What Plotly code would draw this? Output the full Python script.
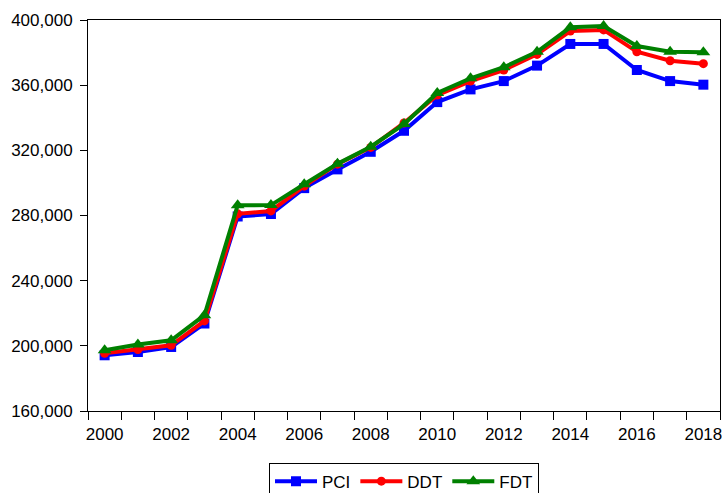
import plotly.graph_objects as go

years = list(range(2000, 2019))
pci = [194200, 196200, 199300, 213700, 279400, 280900, 296800, 308300, 319100, 332000,
       349600, 357400, 362500, 372000, 385300, 385300, 369300, 362500, 360300]
ddt = [195400, 197700, 200300, 215300, 281000, 282800, 298000, 311500, 321800, 336800,
       353900, 362500, 369300, 378900, 393200, 393900, 380500, 375000, 373200]
fdt = [197300, 200800, 203400, 218800, 286300, 286400, 299200, 311700, 322200, 336100,
       355200, 364200, 371000, 380500, 395500, 396300, 384000, 380500, 380200]

xtick_vals = list(range(2000, 2019, 2))
xtick_text = [str(y) for y in xtick_vals]
ytick_vals = [160000, 200000, 240000, 280000, 320000, 360000, 400000]

fig = go.Figure()
fig.add_trace(go.Scatter(x=years, y=pci, name="PCI", mode="lines+markers",
                         line=dict(color="#0000FF", width=4),
                         marker=dict(symbol="square", size=10, color="#0000FF")))
fig.add_trace(go.Scatter(x=years, y=ddt, name="DDT", mode="lines+markers",
                         line=dict(color="#FF0000", width=4),
                         marker=dict(symbol="circle", size=9, color="#FF0000")))
fig.add_trace(go.Scatter(x=years, y=fdt, name="FDT", mode="lines+markers",
                         line=dict(color="#008000", width=4),
                         marker=dict(symbol="triangle-up", size=12, color="#008000")))

font = dict(family="Liberation Sans, Arial, sans-serif", size=17, color="black")

fig.update_layout(
    width=722, height=493,
    margin=dict(l=88, r=2, t=20, b=82, autoexpand=False),
    paper_bgcolor="white", plot_bgcolor="white",
    font=font,
    showlegend=True,
    legend=dict(orientation="h", x=0.5, xanchor="center", y=-0.132, yanchor="top",
                bordercolor="black", borderwidth=1, bgcolor="white",
                font=font, traceorder="normal", itemwidth=42),
    xaxis=dict(range=[1999.5, 2018.5], tickmode="array", tickvals=xtick_vals,
               ticktext=xtick_text, ticks="outside", ticklen=8,
               tickcolor="rgba(0,0,0,0)", showline=True, linecolor="black",
               linewidth=1, mirror=True, showgrid=False, zeroline=False,
               ticklabeloverflow="allow",
               minor=dict(ticks="outside", ticklen=8, tickmode="linear",
                          tick0=1999.5, dtick=1, tickcolor="black", tickwidth=1,
                          showgrid=False)),
    yaxis=dict(range=[160000, 400000], tickmode="array", tickvals=ytick_vals,
               tickformat=",", ticks="outside", ticklen=7, tickcolor="black",
               ticklabelstandoff=4, ticklabeloverflow="allow",
               showline=True, linecolor="black", linewidth=1, mirror=True,
               showgrid=False, zeroline=False),
)

fig.write_html("out.html", config={"displayModeBar": False},
               post_script="document.body.style.margin='0';document.body.style.overflow='hidden';")
